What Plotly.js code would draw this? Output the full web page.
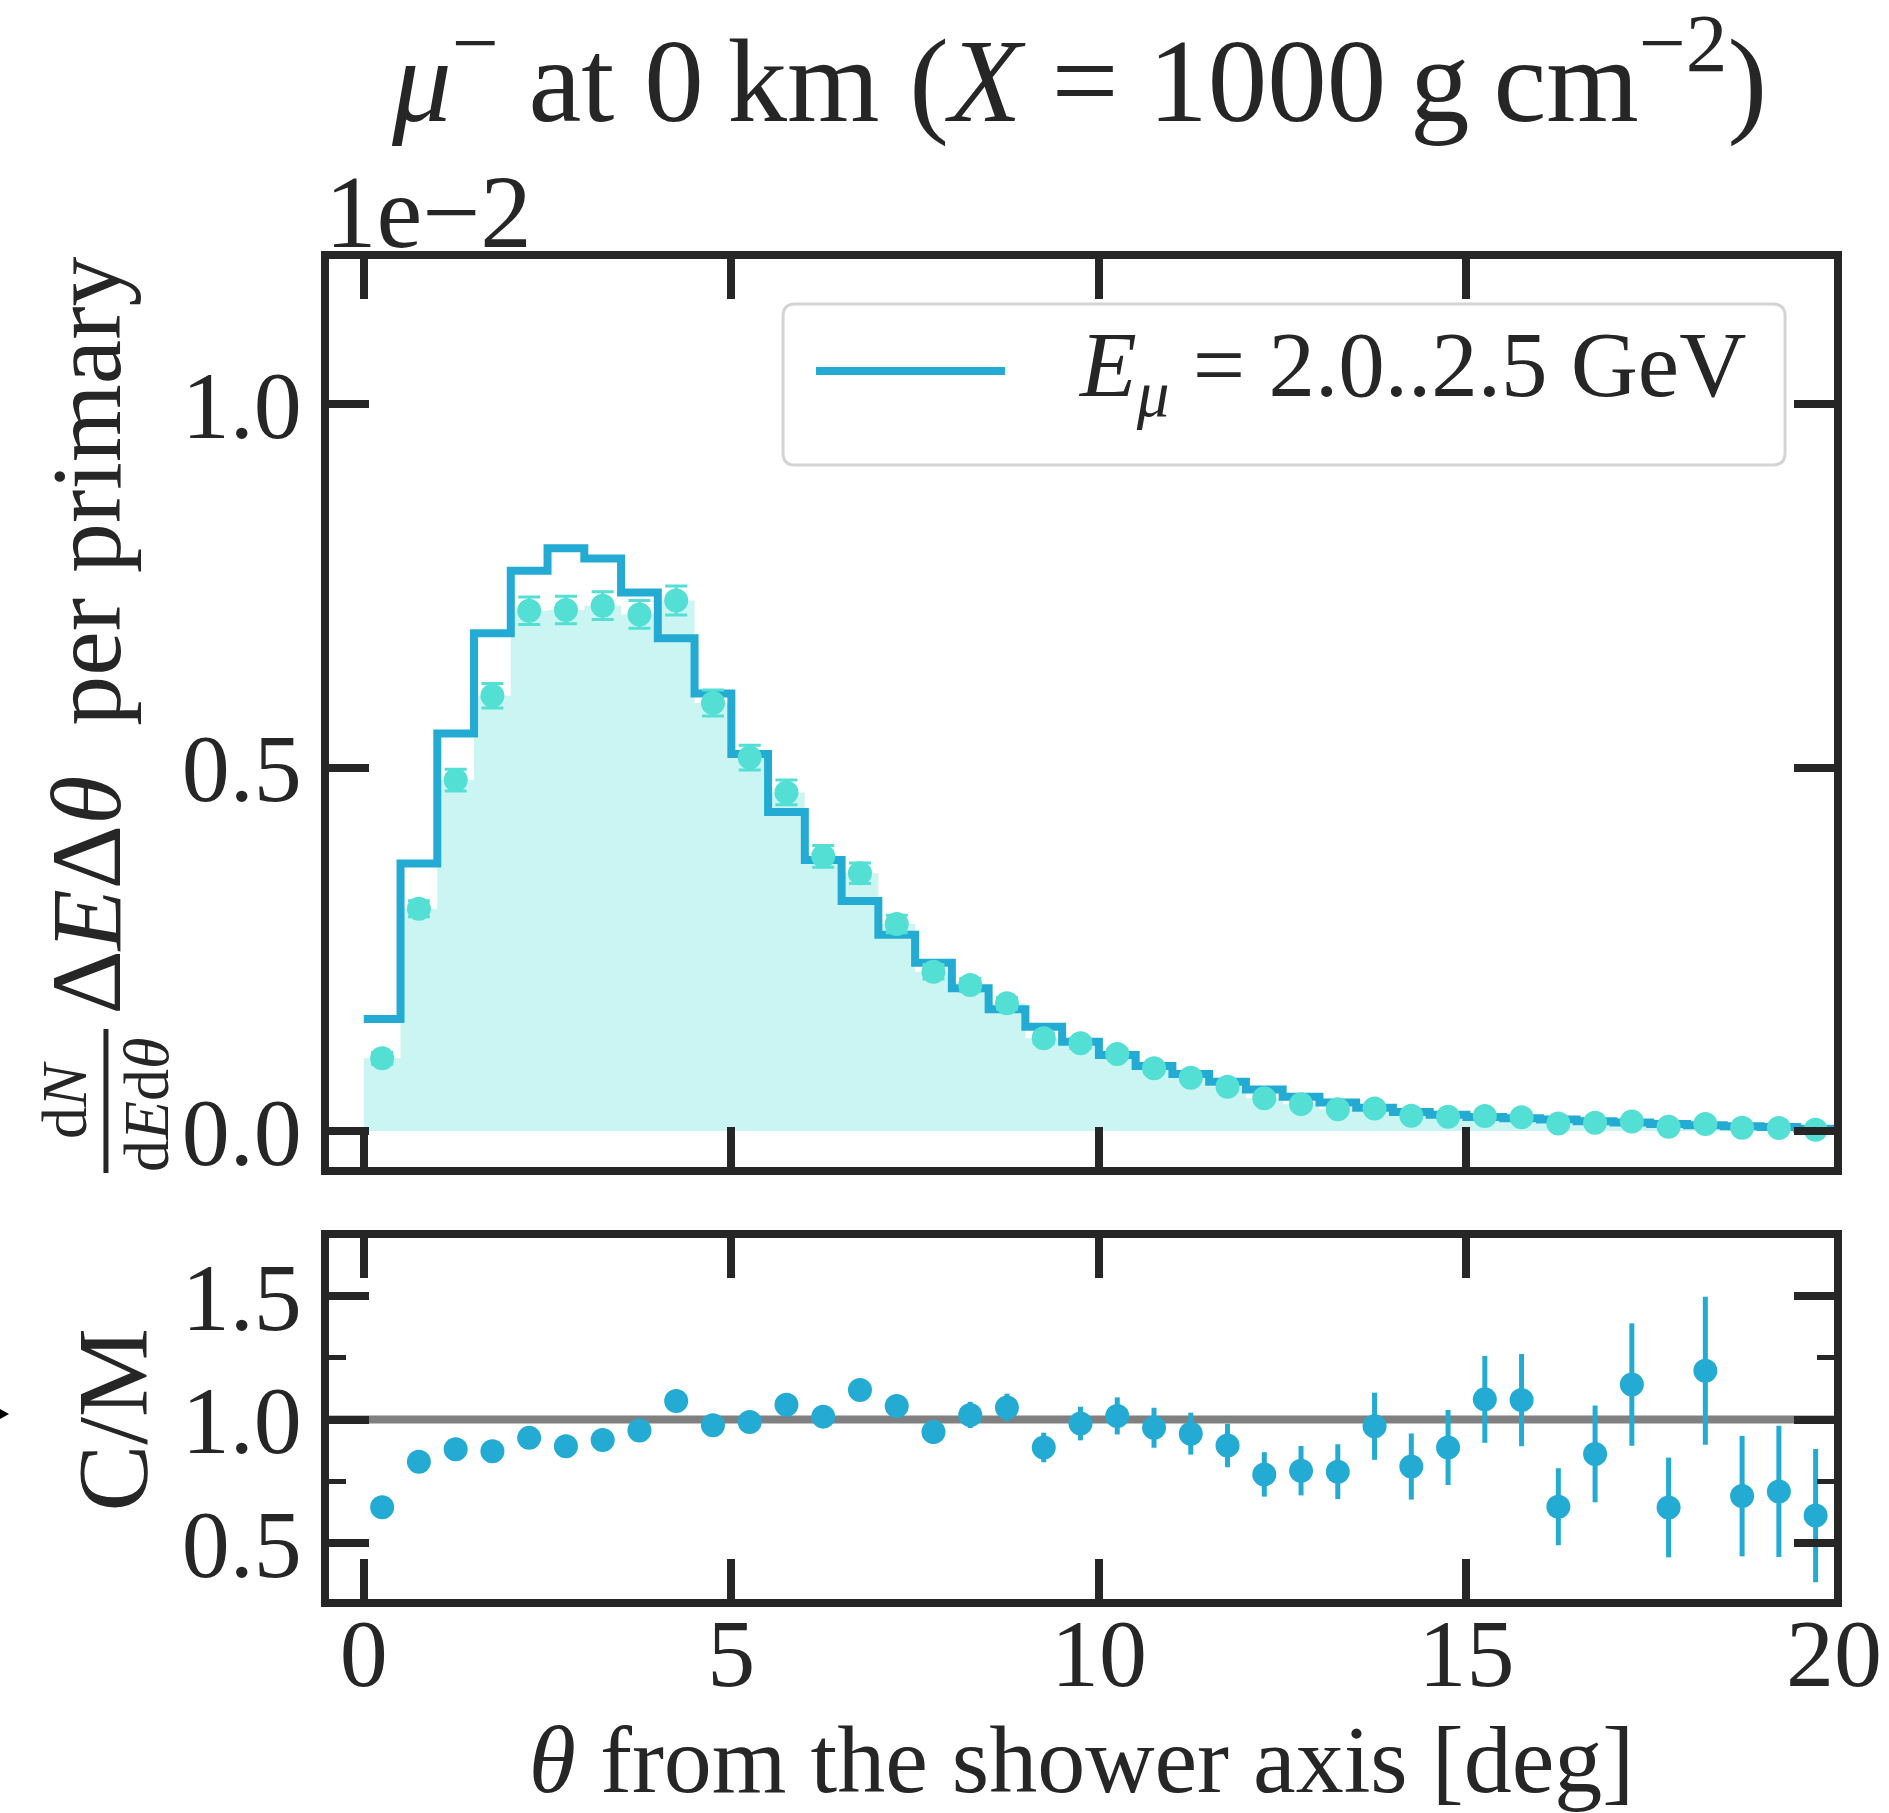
<!DOCTYPE html>
<html>
<head>
<meta charset="utf-8">
<script src="https://cdn.plot.ly/plotly-3.0.1.min.js"></script>
<style>html,body{margin:0;padding:0;background:#fff}</style>
</head>
<body>
<div id="chart" style="width:1889px;height:1813px"></div>
<script>
// ---- data (top panel values in units of 1e-2) ----
const binEdges = [0,0.5,1,1.5,2,2.5,3,3.5,4,4.5,5,5.5,6,6.5,7,7.5,8,8.5,9,9.5,10,
  10.5,11,11.5,12,12.5,13,13.5,14,14.5,15,15.5,16,16.5,17,17.5,18,18.5,19,19.5,20];
const binCenters = [0.25,0.75,1.25,1.75,2.25,2.75,3.25,3.75,4.25,4.75,5.25,5.75,6.25,6.75,
  7.25,7.75,8.25,8.75,9.25,9.75,10.25,10.75,11.25,11.75,12.25,12.75,13.25,13.75,14.25,14.75,
  15.25,15.75,16.25,16.75,17.25,17.75,18.25,18.75,19.25,19.75];
// step histogram (line)
const lineVals = [0.154,0.368,0.547,0.685,0.771,0.802,0.788,0.741,0.678,0.602,
  0.519,0.439,0.373,0.3165,0.270,0.2316,0.1964,0.1675,0.1436,0.1229,
  0.1046,0.0895,0.0784,0.0679,0.057,0.0473,0.0394,0.032,0.0263,0.0224,
  0.0192,0.0176,0.016,0.0136,0.0116,0.0095,0.008,0.0066,0.0055,0.0032];
// points with filled step area
const markerVals = [0.100,0.306,0.483,0.599,0.716,0.717,0.723,0.711,0.730,0.589,
  0.514,0.466,0.378,0.3547,0.2849,0.2193,0.2009,0.1757,0.1276,0.1207,
  0.106,0.0863,0.0734,0.061,0.045,0.037,0.030,0.031,0.021,0.0195,
  0.0206,0.0188,0.0104,0.0115,0.013,0.006,0.0095,0.0045,0.004,0.0019];
const markerErr = [0.008,0.011,0.015,0.017,0.019,0.019,0.019,0.019,0.020,0.018,
  0.017,0.017,0.015,0.014,0.012,0.010,0.009,0.008,0.007,0.007,
  0.006,0.006,0.005,0.005,0.004,0.004,0.004,0.004,0.003,0.003,
  0.003,0.003,0.002,0.002,0.002,0.002,0.002,0.001,0.001,0.001];
// ratio panel C/M
const ratioVals = [0.645,0.829,0.880,0.872,0.926,0.892,0.917,0.956,1.075,0.977,
  0.990,1.060,1.012,1.120,1.055,0.950,1.019,1.049,0.887,0.984,
  1.015,0.967,0.943,0.895,0.778,0.793,0.789,0.973,0.810,0.887,
  1.082,1.079,0.647,0.861,1.142,0.644,1.198,0.690,0.709,0.611];
const ratioErr = [0.035,0.03,0.03,0.028,0.027,0.027,0.027,0.027,0.028,0.03,
  0.033,0.036,0.04,0.043,0.045,0.048,0.053,0.056,0.06,0.068,
  0.075,0.081,0.085,0.088,0.09,0.10,0.111,0.136,0.134,0.152,
  0.176,0.187,0.156,0.196,0.248,0.202,0.300,0.244,0.266,0.27];
const xTickVals = [0,5,10,15,20];
const xTickText = ['0','5','10','15','20'];
const yTickVals = [0,0.5,1.0];
const yTickText = ['0.0','0.5','1.0'];
const rTickVals = [0.5,1.0,1.5];
const rTickText = ['0.5','1.0','1.5'];
const rMinorVals = [0.75,1.25];
const refLevel = 1.0;

// ---- styling ----
const FONT = 'Liberation Serif, Times New Roman, serif';
const INK = '#262626';
const LINE_C = '#24abd4';
const PT_C = '#53dfd4';
const FILL_C = 'rgba(83,223,212,0.3)';

const stepY = arr => arr.concat([arr[arr.length-1]]);

const traces = [
  { x: binEdges, y: stepY(markerVals), xaxis:'x', yaxis:'y', type:'scatter', mode:'lines',
    line:{shape:'hv', width:0, color:FILL_C}, fill:'tozeroy', fillcolor:FILL_C,
    showlegend:false, hoverinfo:'skip' },
  { x: binEdges, y: stepY(lineVals), xaxis:'x', yaxis:'y', type:'scatter', mode:'lines',
    line:{shape:'hv', width:8, color:LINE_C}, name:'E_mu = 2.0..2.5 GeV', showlegend:false },
  { x: binCenters, y: markerVals, xaxis:'x', yaxis:'y', type:'scatter', mode:'markers',
    marker:{size:24, color:PT_C},
    error_y:{type:'data', array:markerErr, visible:true, color:PT_C, thickness:3, width:11},
    showlegend:false },
  { x: binCenters, y: ratioVals, xaxis:'x2', yaxis:'y2', type:'scatter', mode:'markers',
    marker:{size:24, color:LINE_C},
    error_y:{type:'data', array:ratioErr, visible:true, color:LINE_C, thickness:5, width:0},
    showlegend:false }
];

const axBase = {
  showline:true, linewidth:8, linecolor:INK, mirror:'ticks',
  ticks:'inside', ticklen:40, tickwidth:8, tickcolor:INK,
  showgrid:false, zeroline:false,
  tickfont:{family:FONT, size:96, color:INK}
};

// paper-coordinate helpers for the hand-drawn legend box
const bx0=0.3017, bx1=0.9675, by0=0.8463, by1=0.9664, rx=0.008, ry=0.009;
const boxPath = `M${bx0+rx},${by0} L${bx1-rx},${by0} Q${bx1},${by0} ${bx1},${by0+ry} ` +
  `L${bx1},${by1-ry} Q${bx1},${by1} ${bx1-rx},${by1} L${bx0+rx},${by1} ` +
  `Q${bx0},${by1} ${bx0},${by1-ry} L${bx0},${by0+ry} Q${bx0},${by0} ${bx0+rx},${by0} Z`;

const layout = {
  width:1889, height:1813,
  margin:{l:329, r:55, t:259, b:214, pad:0},
  paper_bgcolor:'#ffffff', plot_bgcolor:'#ffffff',
  font:{family:FONT, color:INK, size:96},
  title:{
    text:'<i>μ</i><sup>−</sup> at 0\u2009km (<i>X</i> = 1000\u2009g\u2009cm<sup>−2</sup>)',
    font:{family:FONT, size:119, color:INK},
    x:0.5715, xanchor:'center', xref:'container',
    y:0.9565, yanchor:'middle', yref:'container'
  },
  xaxis: Object.assign({}, axBase, {
    domain:[0,1], anchor:'y', range:[-0.473, 20.0],
    tickmode:'array', tickvals:xTickVals, ticktext:xTickText, showticklabels:false,
    matches:'x2'
  }),
  yaxis: Object.assign({}, axBase, {
    domain:[0.3224,1], anchor:'x', range:[-0.0495, 1.2001],
    tickmode:'array', tickvals:yTickVals, ticktext:yTickText
  }),
  xaxis2: Object.assign({}, axBase, {
    domain:[0,1], anchor:'y2', range:[-0.473, 20.0],
    tickmode:'array', tickvals:xTickVals, ticktext:xTickText,
    ticklabelstandoff:-36,
    title:{text:'<i>θ</i> from the shower axis [deg]', font:{family:FONT, size:96, color:INK}, standoff:62}
  }),
  yaxis2: Object.assign({}, axBase, {
    domain:[0,0.2694], anchor:'x2', range:[0.2731, 1.7358],
    tickmode:'array', tickvals:rTickVals, ticktext:rTickText,
    minor:{tickmode:'array', tickvals:rMinorVals, ticks:'inside', ticklen:17, tickwidth:5, tickcolor:INK, showgrid:false}
  }),
  shapes:[
    { type:'line', xref:'x2 domain', x0:0, x1:1, yref:'y2', y0:refLevel, y1:refLevel,
      line:{color:'#808080', width:8}, layer:'below' },
    { type:'path', xref:'paper', yref:'paper', path:boxPath,
      fillcolor:'rgba(255,255,255,0.8)', line:{color:'#d4d4d4', width:3}, layer:'above' },
    { type:'line', xref:'paper', yref:'paper', x0:0.3236, x1:0.4492, y0:0.9164, y1:0.9164,
      line:{color:LINE_C, width:8}, layer:'above' },
    { type:'line', xref:'paper', yref:'paper', x0:-0.1482, x1:-0.1482, y0:0.3179, y1:0.4254,
      line:{color:INK, width:5} },
    { type:'path', xref:'paper', yref:'paper',
      path:'M-0.2186,0.1418 L-0.2126,0.1381 L-0.2186,0.1343 Z',
      fillcolor:'#000000', line:{width:0} }
  ],
  annotations:[
    { xref:'paper', yref:'paper', x:-0.004, y:1, xanchor:'left', yanchor:'bottom', yshift:-12,
      text:'1e−2', showarrow:false, font:{family:FONT, size:103, color:INK} },
    { xref:'paper', yref:'paper', x:0.4963, y:0.9164, xanchor:'left', yanchor:'middle',
      text:'<i>E</i><sub><i>μ</i></sub> = 2.0..2.5 GeV', showarrow:false,
      font:{family:FONT, size:93, color:INK} },
    { xref:'paper', yref:'paper', x:-0.1608, y:0.7190, xanchor:'center', yanchor:'middle',
      textangle:-90, text:'Δ<i>E</i>Δ<i>θ</i>\u2002per primary', showarrow:false,
      font:{family:FONT, size:100, color:INK} },
    { xref:'paper', yref:'paper', x:-0.1754, y:0.3724, xanchor:'center', yanchor:'middle',
      textangle:-90, text:'d<i>N</i>', showarrow:false,
      font:{family:FONT, size:64, color:INK} },
    { xref:'paper', yref:'paper', x:-0.1213, y:0.3690, xanchor:'center', yanchor:'middle',
      textangle:-90, text:'d<i>E</i>d<i>θ</i>', showarrow:false,
      font:{family:FONT, size:64, color:INK} },
    { xref:'paper', yref:'paper', x:-0.1442, y:0.1340, xanchor:'center', yanchor:'middle',
      textangle:-90, text:'C/M', showarrow:false,
      font:{family:FONT, size:100, color:INK} }
  ]
};

Plotly.newPlot('chart', traces, layout, {displayModeBar:false, staticPlot:true});
</script>
</body>
</html>
